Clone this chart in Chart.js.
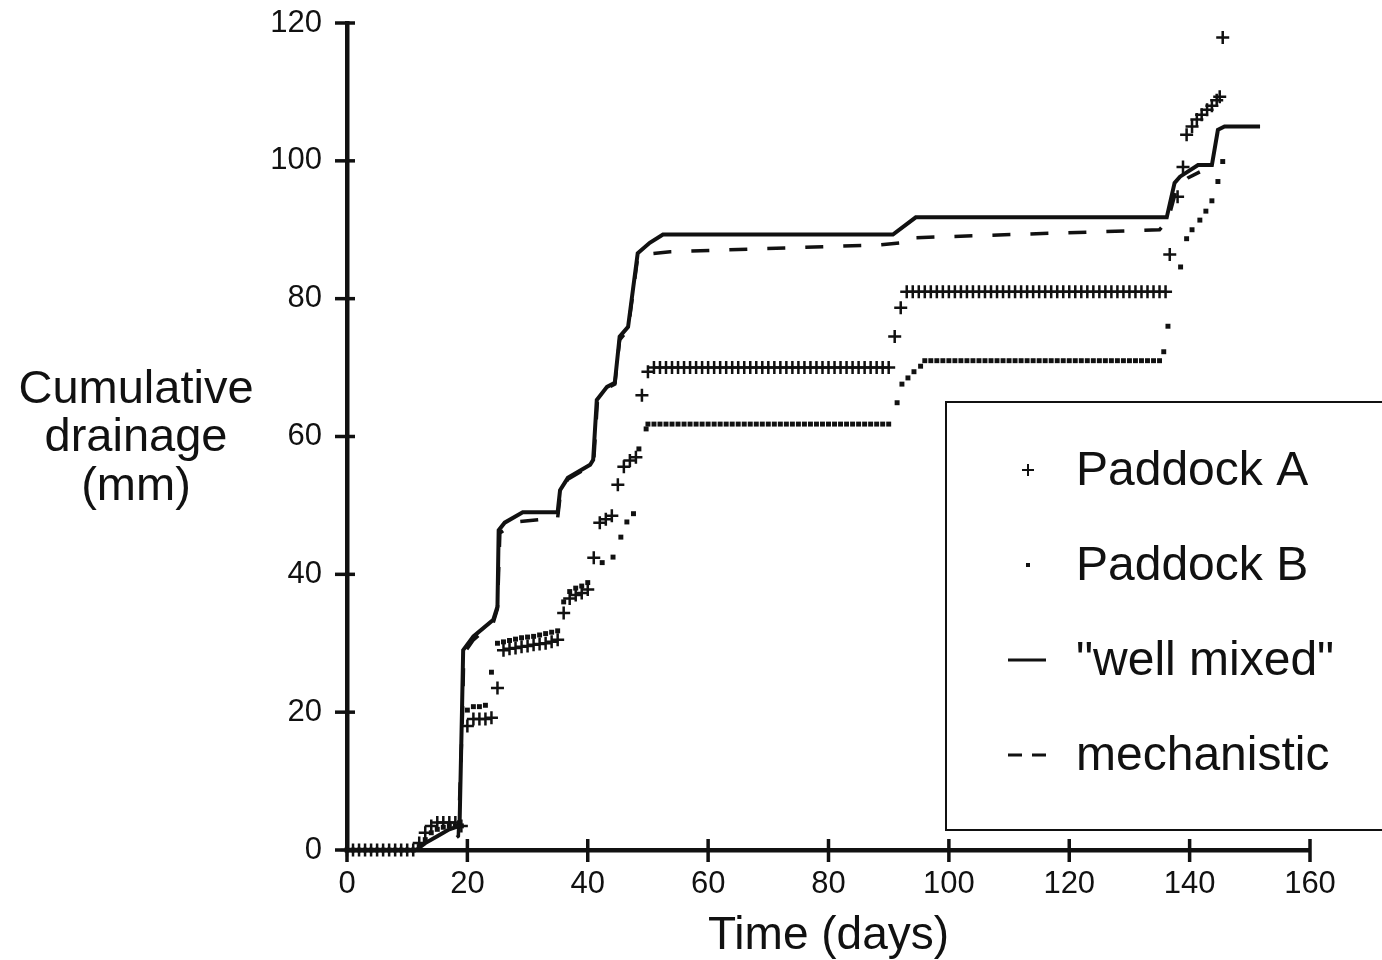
<!DOCTYPE html>
<html>
<head>
<meta charset="utf-8">
<script src="https://cdn.jsdelivr.net/npm/chart.js@4/dist/chart.umd.min.js"></script>
<style>
  html, body { margin: 0; padding: 0; background: #fff; }
  canvas { display: block; }
</style>
</head>
<body>
<canvas id="chart" width="1382" height="960"></canvas>
<script>
// ---- data (days, mm) ----
const paddockADays = [
  0, 1, 2, 3, 4, 5, 6, 7, 8, 9, 10, 11,
  12, 13, 14, 15, 16, 17, 18, 19,
  20, 21, 22, 23, 24, 25,
  26, 27, 28, 29, 30, 31, 32, 33, 34, 35,
  36, 37, 38, 39, 40,
  41, 42, 43, 44, 45, 46, 47, 48, 49, 50,
  51, 52, 53, 54, 55, 56, 57, 58, 59, 60, 61, 62, 63, 64, 65, 66, 67, 68, 69, 70,
  71, 72, 73, 74, 75, 76, 77, 78, 79, 80, 81, 82, 83, 84, 85, 86, 87, 88, 89, 90,
  91, 92,
  93, 94, 95, 96, 97, 98, 99, 100, 101, 102, 103, 104, 105, 106, 107, 108, 109, 110,
  111, 112, 113, 114, 115, 116, 117, 118, 119, 120, 121, 122, 123, 124, 125, 126, 127, 128,
  129, 130, 131, 132, 133, 134, 135, 136,
  136.7, 138, 138.9, 139.5, 140.4, 141.2, 142, 142.9, 143.7, 144.5, 145, 145.5
];
const paddockAValues = [
  0, 0, 0, 0, 0, 0, 0, 0, 0, 0, 0, 0,
  1, 2.5, 3.5, 4, 4, 4, 4, 3.5,
  18, 19, 19, 19, 19.2, 23.5,
  29, 29.2, 29.3, 29.5, 29.6, 29.8, 29.9, 30, 30.2, 30.5,
  34.4, 36.5, 37, 37.3, 37.8,
  42.4, 47.5, 48, 48.5, 53, 55.6, 56.5, 57, 66, 69.4,
  70, 70, 70, 70, 70, 70, 70, 70, 70, 70, 70, 70, 70, 70, 70, 70, 70, 70, 70, 70,
  70, 70, 70, 70, 70, 70, 70, 70, 70, 70, 70, 70, 70, 70, 70, 70, 70, 70, 70, 70,
  74.5, 78.7,
  81, 81, 81, 81, 81, 81, 81, 81, 81, 81, 81, 81, 81, 81, 81, 81, 81, 81,
  81, 81, 81, 81, 81, 81, 81, 81, 81, 81, 81, 81, 81, 81, 81, 81, 81, 81,
  81, 81, 81, 81, 81, 81, 81, 81,
  86.4, 94.8, 99.1, 103.8, 105, 106, 106.7, 107.4, 108, 108.8, 109.3, 117.9
];

const paddockBDays = [
  0, 1, 2, 3, 4, 5, 6, 7, 8, 9, 10, 11,
  12, 13, 14, 15, 16, 17, 18, 19,
  20, 21, 22, 23, 24,
  25, 26, 27, 28, 29, 30, 31, 32, 33, 34, 35,
  36, 37, 38, 39, 40,
  42.4, 44.2, 45.5, 46.5, 47.6, 48.5, 49.7,
  50, 51, 52, 53, 54, 55, 56, 57, 58, 59, 60, 61, 62, 63, 64, 65, 66, 67, 68, 69, 70,
  71, 72, 73, 74, 75, 76, 77, 78, 79, 80, 81, 82, 83, 84, 85, 86, 87, 88, 89, 90,
  91.4, 92.2, 93.2, 94.2, 95.3,
  96, 97, 98, 99, 100, 101, 102, 103, 104, 105, 106, 107, 108, 109, 110,
  111, 112, 113, 114, 115, 116, 117, 118, 119, 120, 121, 122, 123, 124, 125,
  126, 127, 128, 129, 130, 131, 132, 133, 134, 135,
  135.7, 136.4, 138.5, 139.5, 140.4, 141.7, 142.7, 143.7, 144.7, 145.5
];
const paddockBValues = [
  0, 0, 0, 0, 0, 0, 0, 0, 0, 0, 0, 0,
  0.5, 1.5, 2.5, 3, 3.3, 3.5, 3.5, 3.5,
  20.3, 20.8, 20.8, 21, 25.8,
  30, 30.2, 30.4, 30.6, 30.8, 30.9, 31, 31.2, 31.4, 31.6, 31.8,
  36, 37.5, 38, 38.3, 38.8,
  41.7, 42.5, 45.4, 47.6, 48.8, 58.2, 61.1,
  61.8, 61.8, 61.8, 61.8, 61.8, 61.8, 61.8, 61.8, 61.8, 61.8, 61.8, 61.8, 61.8, 61.8, 61.8, 61.8, 61.8, 61.8, 61.8, 61.8, 61.8,
  61.8, 61.8, 61.8, 61.8, 61.8, 61.8, 61.8, 61.8, 61.8, 61.8, 61.8, 61.8, 61.8, 61.8, 61.8, 61.8, 61.8, 61.8, 61.8, 61.8,
  64.9, 67.6, 68.5, 69.4, 70.2,
  71, 71, 71, 71, 71, 71, 71, 71, 71, 71, 71, 71, 71, 71, 71,
  71, 71, 71, 71, 71, 71, 71, 71, 71, 71, 71, 71, 71, 71, 71,
  71, 71, 71, 71, 71, 71, 71, 71, 71, 71,
  72.3, 76, 84.6, 88.7, 90, 91.4, 92.7, 94.2, 97, 99.9
];

const wellMixedDays = [
  0, 11.5, 13, 15, 17, 18.7, 19.1, 19.3, 21, 24.3, 25, 25.2, 26.2, 29.2, 35, 35.4,
  36.7, 40.4, 40.9, 41.5, 43.2, 44.5, 45.3, 46.7, 48.3, 50.3, 52.5, 90.7, 94.5,
  136.2, 137.5, 138.4, 141.4, 143.7, 144.7, 145.8, 151.7
];
const wellMixedValues = [
  0, 0, 1, 2, 3, 3.5, 20, 29, 31, 33.4, 35.3, 46.4, 47.5, 49, 49, 52.2,
  54, 55.9, 56.6, 65.3, 67.2, 67.8, 74.5, 75.9, 86.6, 88.1, 89.3, 89.3, 91.8,
  91.8, 96.8, 97.7, 99.4, 99.4, 104.5, 105, 105
];

const mechanisticDays = [
  0, 15.5, 17, 18.5, 19.2, 19.4, 21, 24.3, 25, 25.4, 28, 35, 35.5, 36.7, 40.4,
  41, 41.6, 43.2, 44.5, 45.3, 46.7, 48.3, 50.3, 53.7, 88.5, 92.2, 92.7, 135,
  136.4, 137.9, 139.7, 141.7
];
const mechanisticValues = [
  0, 0, 1, 2, 20, 28.5, 30.5, 33, 35, 46, 47.6, 48.2, 52, 53.8, 55.7,
  56.5, 65, 67, 67.6, 74, 75.5, 86, 86.5, 86.8, 87.8, 88.1, 88.8, 90,
  91.4, 96.2, 97.5, 98.4
];

const xTicks = [0, 20, 40, 60, 80, 100, 120, 140, 160];
const yTicks = [0, 20, 40, 60, 80, 100, 120];
const yTitleLines = ['Cumulative', 'drainage', '(mm)'];
const xTitle = 'Time (days)';

const INK = '#111';
const FONT = '"Liberation Sans", Arial, Helvetica, sans-serif';

const toPoints = (xs, ys) => xs.map((x, i) => ({ x, y: ys[i] }));

// ticks that cross the axis lines, plus the horizontal y title
const axisExtras = {
  id: 'axisExtras',
  afterDraw(chart) {
    const { ctx, chartArea, scales } = chart;
    ctx.save();
    ctx.strokeStyle = INK;
    ctx.lineWidth = 3.5;
    yTicks.forEach((v) => {
      const y = scales.y.getPixelForValue(v);
      ctx.beginPath();
      ctx.moveTo(chartArea.left - 12, y);
      ctx.lineTo(chartArea.left + 8, y);
      ctx.stroke();
    });
    xTicks.forEach((v) => {
      const x = scales.x.getPixelForValue(v);
      ctx.beginPath();
      ctx.moveTo(x, chartArea.bottom - 11);
      ctx.lineTo(x, chartArea.bottom + 12);
      ctx.stroke();
    });
    ctx.fillStyle = INK;
    ctx.font = `47px ${FONT}`;
    ctx.textAlign = 'center';
    ctx.textBaseline = 'middle';
    yTitleLines.forEach((t, i) => ctx.fillText(t, 136, 390 + i * 48.5));
    ctx.restore();
  },
};

// boxed legend inside the plot, cut by the right edge
const boxLegend = {
  id: 'boxLegend',
  afterDraw(chart) {
    const { ctx } = chart;
    const left = 946, top = 402, bottom = 830;
    ctx.save();
    ctx.strokeStyle = INK;
    ctx.lineWidth = 2;
    ctx.strokeRect(left, top, 1400 - left, bottom - top);

    const rows = [470, 565, 660, 755];
    const sx = 1028, tx = 1076;
    ctx.fillStyle = INK;
    ctx.font = `48px ${FONT}`;
    ctx.textAlign = 'left';
    ctx.textBaseline = 'middle';
    chart.data.datasets.forEach((ds, i) => {
      const y = rows[i];
      ctx.lineWidth = 2;
      ctx.setLineDash([]);
      if (ds.pointStyle === 'cross') {
        ctx.beginPath();
        ctx.moveTo(sx - 6, y); ctx.lineTo(sx + 6, y);
        ctx.moveTo(sx, y - 6); ctx.lineTo(sx, y + 6);
        ctx.stroke();
      } else if (ds.pointStyle === 'rect') {
        ctx.fillRect(sx - 2, y - 2, 4, 4);
      } else {
        ctx.lineWidth = 3;
        if (ds.borderDash) ctx.setLineDash([14, 10]);
        ctx.beginPath();
        ctx.moveTo(sx - 20, y); ctx.lineTo(sx + 18, y);
        ctx.stroke();
      }
      ctx.fillText(ds.label, tx, y + 2);
    });
    ctx.restore();
  },
};

new Chart(document.getElementById('chart'), {
  type: 'scatter',
  data: {
    datasets: [
      {
        label: 'Paddock A',
        data: toPoints(paddockADays, paddockAValues),
        pointStyle: 'cross',
        radius: 6.5,
        borderWidth: 2.5,
        borderColor: INK,
        backgroundColor: INK,
        clip: false,
      },
      {
        label: 'Paddock B',
        data: toPoints(paddockBDays, paddockBValues),
        pointStyle: 'rect',
        radius: 3.5,
        borderWidth: 0,
        backgroundColor: INK,
        borderColor: INK,
        clip: false,
      },
      {
        label: '"well mixed"',
        data: toPoints(wellMixedDays, wellMixedValues),
        showLine: true,
        pointRadius: 0,
        borderWidth: 4,
        borderColor: INK,
        tension: 0,
        clip: false,
      },
      {
        label: 'mechanistic',
        data: toPoints(mechanisticDays, mechanisticValues),
        showLine: true,
        pointRadius: 0,
        borderWidth: 3.5,
        borderColor: INK,
        borderDash: [18, 20],
        tension: 0,
        clip: false,
      },
    ],
  },
  options: {
    responsive: false,
    animation: false,
    devicePixelRatio: 1,
    layout: { padding: { top: 23, right: 72, left: 0, bottom: 0 } },
    plugins: { legend: { display: false }, tooltip: { enabled: false } },
    scales: {
      x: {
        type: 'linear',
        min: 0,
        max: 160,
        afterFit: (s) => { s.height = 110; s.paddingLeft = 0; s.paddingRight = 0; },
        afterBuildTicks: (s) => { s.ticks = xTicks.map((v) => ({ value: v })); },
        grid: { display: false },
        border: { display: true, color: INK, width: 4.5 },
        ticks: { color: INK, font: { family: FONT, size: 31 }, padding: 8, maxRotation: 0 },
        title: { display: true, text: xTitle, color: INK, font: { family: FONT, size: 46, lineHeight: 1 }, padding: { top: 0, bottom: 1 } },
      },
      y: {
        type: 'linear',
        min: 0,
        max: 120,
        afterFit: (s) => { s.width = 347; s.paddingTop = 0; s.paddingBottom = 0; },
        afterBuildTicks: (s) => { s.ticks = yTicks.map((v) => ({ value: v })); },
        grid: { display: false },
        border: { display: true, color: INK, width: 4.5 },
        ticks: { color: INK, font: { family: FONT, size: 31 }, padding: 17 },
      },
    },
  },
  plugins: [axisExtras, boxLegend],
});
</script>
</body>
</html>
